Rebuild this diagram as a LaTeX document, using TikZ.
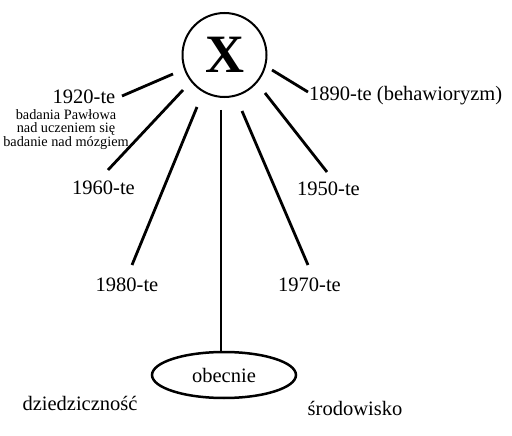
\documentclass[tikz,border=0pt]{standalone}
\usepackage{fontspec}
\setmainfont{Liberation Serif}
\usetikzlibrary{shapes.geometric}
\begin{document}
\begin{tikzpicture}[x=1pt,y=-1pt,
  lbl/.style={inner sep=0pt,anchor=center,font=\fontsize{20.5}{22}\selectfont},
  small/.style={inner sep=0pt,anchor=center,align=center,font=\fontsize{14.3}{13.6}\selectfont},
  ray/.style={line width=2.8pt}]
\useasboundingbox (0,0) rectangle (512,436);
\node[draw,circle,line width=2pt,minimum size=84pt,inner sep=0pt,
  font=\fontsize{54}{54}\selectfont\bfseries] (X) at (224.5,55) {X};
\node[draw,ellipse,line width=2.5pt,minimum width=144pt,minimum height=46pt,inner sep=0pt,
  font=\fontsize{20.5}{22}\selectfont] (ob) at (224,375) {obecnie};
\node[lbl] (l1920) at (84,97) {1920-te};
\node[small] (bad) at (66,129.5) {badania Pawłowa\\nad uczeniem się\\badanie nad mózgiem};
\node[lbl] (l1960) at (103.5,187.5) {1960-te};
\node[lbl] (l1980) at (127,284.5) {1980-te};
\node[lbl] (l1970) at (309.5,285) {1970-te};
\node[lbl] (l1950) at (328.5,188.5) {1950-te};
\node[lbl,anchor=west] (l1890) at (309,96) {1890-te (behawioryzm)};
\node[lbl] (dz) at (80,403) {dziedziczność};
\node[lbl] (sr) at (355,408) {środowisko};
\coordinate (s1) at (173,74); \coordinate (e1) at (122,96);
\coordinate (s2) at (183,90); \coordinate (e2) at (108,170);
\coordinate (s3) at (197,107); \coordinate (e3) at (132,265);
\coordinate (s4) at (221,110); \coordinate (e4) at (ob.north -| s4);
\coordinate (s5) at (242,111); \coordinate (e5) at (308,265);
\coordinate (s6) at (265,93); \coordinate (e6) at (327,172);
\coordinate (s7) at (272,70); \coordinate (e7) at (308,92);
\foreach \i in {1,...,7} {\draw[ray] (s\i) -- (e\i);}
\end{tikzpicture}
\end{document}
